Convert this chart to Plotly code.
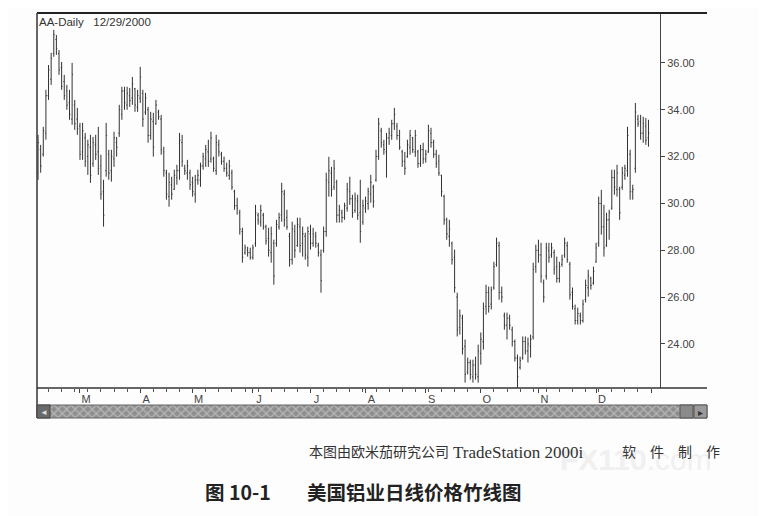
import pandas as pd
import plotly.graph_objects as go

# ---------------- data (AA daily, 2000-02-08 .. 2000-12-29) ----------------
high = [32.93, 32.50, 33.27, 34.85, 35.91, 36.43, 37.41, 37.19, 36.55, 36.04,
        35.49, 35.06, 34.85, 36.00, 34.42, 34.08, 33.44, 33.44, 33.01, 32.72,
        32.93, 32.84, 32.93, 33.27, 32.08, 31.01, 33.44, 32.29, 32.29, 33.06,
        32.84, 34.21, 34.98, 34.98, 34.98, 34.93, 35.40, 34.93, 34.85, 35.83,
        34.85, 34.72, 34.12, 33.91, 33.87, 34.42, 34.00, 33.78, 32.42, 31.44,
        31.31, 31.14, 31.44, 31.65, 33.01, 32.93, 31.65, 31.86, 31.44, 31.14,
        31.22, 31.44, 31.74, 32.16, 32.50, 32.72, 33.06, 32.00, 32.93, 32.72,
        32.20, 32.00, 31.74, 31.86, 31.44, 30.58, 30.24, 29.73, 28.96, 28.24,
        28.15, 28.11, 28.24, 29.94, 29.60, 29.94, 29.60, 29.09, 28.96, 29.01,
        28.45, 29.30, 29.60, 30.88, 30.58, 29.73, 28.75, 29.22, 29.09, 29.39,
        29.39, 29.01, 28.75, 29.01, 29.09, 28.96, 28.79, 28.32, 28.03, 29.01,
        31.31, 31.99, 31.56, 31.86, 31.01, 29.94, 29.73, 30.03, 30.88, 31.14,
        30.37, 30.46, 30.37, 31.01, 30.16, 30.29, 30.67, 31.22, 30.80, 32.29,
        33.65, 33.23, 32.72, 33.01, 33.23, 33.57, 34.08, 33.44, 33.14, 32.29,
        32.20, 32.72, 33.14, 32.84, 33.14, 32.29, 32.50, 32.59, 32.29, 33.36,
        33.23, 32.72, 32.29, 32.08, 31.22, 30.37, 29.39, 29.30, 28.37, 28.03,
        26.19, 25.47, 25.25, 24.19, 23.42, 23.33, 23.33, 23.46, 23.97, 24.49,
        25.77, 26.53, 26.45, 26.45, 27.51, 28.54, 28.37, 26.45, 25.34, 25.34,
        25.25, 24.74, 24.19, 23.55, 23.46, 24.32, 24.32, 24.27, 24.40, 27.47,
        28.24, 28.45, 28.32, 26.75, 28.32, 28.32, 28.32, 28.03, 27.73, 27.51,
        27.81, 28.54, 28.37, 27.51, 26.41, 25.68, 25.55, 25.34, 25.89, 26.75,
        27.17, 26.87, 27.30, 28.32, 30.29, 30.58, 29.94, 29.60, 29.73, 31.44,
        31.44, 31.65, 30.71, 31.56, 31.65, 33.27, 32.29, 30.80, 34.29, 33.78,
        33.78, 33.70, 33.65, 33.57]

low = [31.01, 31.31, 32.00, 32.72, 34.42, 35.06, 36.26, 36.34, 35.49, 34.85,
       34.42, 34.00, 33.57, 33.36, 33.14, 32.93, 31.86, 31.86, 31.56, 31.22,
       30.88, 31.56, 31.86, 31.22, 30.16, 29.01, 31.14, 31.01, 30.93, 31.56,
       32.00, 32.84, 33.57, 34.00, 34.00, 34.12, 34.21, 33.91, 33.91, 34.29,
       33.27, 33.78, 32.59, 32.72, 32.00, 33.36, 33.57, 32.08, 31.14, 30.16,
       29.86, 30.16, 30.58, 30.80, 31.01, 31.56, 31.22, 31.01, 30.58, 30.29,
       30.03, 30.80, 30.71, 31.44, 31.56, 31.56, 31.74, 31.35, 31.22, 32.00,
       31.65, 31.35, 31.14, 31.01, 30.58, 29.73, 29.52, 28.67, 27.47, 27.81,
       27.73, 27.60, 27.60, 28.15, 29.09, 29.01, 28.88, 28.24, 27.73, 27.47,
       26.53, 28.15, 28.88, 29.22, 29.01, 28.88, 27.30, 27.39, 27.68, 28.15,
       27.90, 27.73, 27.60, 27.30, 28.03, 28.15, 28.11, 27.73, 26.19, 27.90,
       28.58, 30.29, 30.29, 30.58, 29.18, 29.18, 29.18, 29.30, 29.65, 29.94,
       29.39, 29.60, 29.30, 28.32, 29.09, 29.60, 29.73, 30.03, 29.82, 30.93,
       31.86, 32.38, 32.08, 31.10, 32.50, 32.72, 33.14, 32.72, 32.29, 31.56,
       31.22, 31.95, 32.08, 32.16, 31.99, 31.52, 31.56, 31.69, 31.74, 32.16,
       32.38, 31.95, 31.52, 31.18, 30.29, 29.09, 28.45, 28.15, 27.39, 26.19,
       24.32, 24.40, 23.55, 22.35, 22.70, 22.48, 22.35, 22.48, 22.35, 23.12,
       23.76, 25.25, 25.34, 25.47, 26.32, 27.30, 25.89, 25.77, 24.61, 24.19,
       24.61, 23.89, 23.25, 22.14, 22.91, 23.33, 23.55, 23.21, 23.42, 24.19,
       27.04, 27.47, 26.62, 25.77, 26.75, 27.47, 27.68, 26.96, 26.62, 26.62,
       27.30, 27.68, 27.47, 25.89, 25.47, 24.83, 24.83, 24.83, 24.91, 25.77,
       26.02, 26.32, 26.53, 27.47, 28.15, 28.67, 27.73, 28.15, 28.45, 29.73,
       30.37, 30.29, 29.30, 30.58, 31.01, 31.14, 30.16, 30.16, 31.31, 33.27,
       32.72, 32.59, 32.50, 32.42]

open_ = [31.3, 32.3, 32.1, 33.0, 34.6, 35.3, 36.4, 37.0, 36.4, 35.8,
         35.2, 34.8, 34.3, 33.6, 34.2, 33.6, 33.3, 32.2, 32.8, 32.0,
         32.4, 31.7, 32.5, 32.2, 31.6, 30.5, 31.4, 32.1, 31.4, 31.9,
         32.6, 33.0, 33.8, 34.8, 34.2, 34.6, 34.5, 34.9, 34.1, 34.5,
         34.7, 33.9, 34.0, 32.9, 33.5, 33.4, 33.9, 33.6, 32.2, 31.3,
         30.3, 30.8, 30.6, 31.1, 31.4, 32.6, 31.5, 31.3, 31.3, 30.9,
         30.4, 31.0, 31.0, 31.6, 31.9, 32.2, 31.9, 31.9, 31.4, 32.5,
         32.1, 31.8, 31.5, 31.2, 31.3, 30.5, 29.9, 29.6, 28.8, 27.9,
         28.0, 27.9, 27.7, 28.3, 29.5, 29.2, 29.5, 29.0, 28.5, 27.9,
         28.3, 28.3, 29.0, 29.5, 30.4, 29.4, 28.6, 27.6, 28.8, 28.2,
         29.0, 28.3, 28.6, 27.7, 28.7, 28.3, 28.6, 28.2, 27.8, 28.0,
         28.8, 30.9, 31.3, 30.7, 30.9, 29.5, 29.6, 29.4, 29.8, 30.5,
         30.2, 29.7, 30.1, 29.6, 29.2, 29.8, 30.0, 30.4, 30.7, 31.0,
         32.0, 33.1, 32.5, 32.2, 32.8, 32.9, 33.4, 33.3, 32.9, 32.2,
         31.8, 32.0, 32.4, 32.8, 32.2, 32.2, 31.7, 32.3, 31.9, 32.2,
         33.0, 32.6, 32.1, 31.8, 31.2, 30.3, 29.3, 28.6, 28.3, 27.7,
         26.0, 24.7, 25.1, 23.9, 22.8, 23.2, 22.6, 23.1, 22.6, 23.6,
         24.1, 25.6, 26.2, 25.7, 26.4, 27.4, 28.2, 26.2, 25.2, 24.8,
         25.1, 24.6, 24.1, 23.4, 23.0, 23.4, 24.1, 23.7, 23.9, 24.3,
         27.3, 28.0, 27.8, 26.6, 26.9, 28.0, 27.8, 27.9, 27.3, 26.8,
         27.4, 27.8, 28.2, 27.4, 26.2, 25.5, 25.0, 25.2, 25.0, 25.9,
         26.4, 26.8, 26.6, 27.5, 28.3, 30.0, 29.0, 28.2, 29.3, 29.8,
         31.1, 30.6, 30.6, 30.7, 31.2, 31.4, 32.1, 30.5, 31.5, 33.6,
         33.5, 33.0, 33.3, 32.8]

close = [32.6, 31.6, 33.1, 34.6, 35.7, 36.2, 37.2, 36.6, 35.7, 35.0,
         34.6, 34.2, 33.8, 35.5, 33.4, 33.2, 32.1, 33.1, 31.8, 32.5,
         31.2, 32.6, 32.1, 31.5, 30.4, 29.5, 32.9, 31.3, 32.0, 32.8,
         32.4, 34.0, 34.8, 34.3, 34.7, 34.4, 35.1, 34.2, 34.6, 35.4,
         33.6, 34.5, 32.9, 33.6, 32.4, 34.2, 33.7, 32.3, 31.4, 30.4,
         30.9, 30.4, 31.2, 31.4, 32.7, 31.8, 31.4, 31.6, 30.8, 30.5,
         31.0, 31.2, 31.6, 32.0, 32.3, 31.8, 32.8, 31.5, 32.6, 32.2,
         31.8, 31.5, 31.3, 31.6, 30.7, 29.9, 29.8, 28.9, 27.7, 28.1,
         27.9, 27.7, 28.1, 29.6, 29.3, 29.7, 29.0, 28.4, 28.0, 28.7,
         26.9, 29.1, 29.4, 30.5, 29.3, 29.0, 27.6, 28.9, 28.0, 29.1,
         28.2, 28.7, 27.8, 28.8, 28.3, 28.7, 28.3, 27.9, 26.7, 28.8,
         31.0, 31.4, 30.6, 31.5, 29.5, 29.7, 29.4, 29.9, 30.6, 30.2,
         29.6, 30.2, 29.5, 28.8, 29.9, 30.1, 30.5, 30.9, 30.1, 32.0,
         33.4, 32.6, 32.3, 32.8, 33.0, 33.4, 33.8, 32.9, 32.4, 31.8,
         31.5, 32.5, 32.9, 32.3, 32.9, 31.7, 32.3, 31.9, 32.1, 33.1,
         32.6, 32.1, 31.7, 31.3, 30.5, 29.3, 28.7, 28.9, 27.6, 26.4,
         24.6, 25.2, 23.8, 22.7, 23.2, 22.7, 23.1, 22.7, 23.7, 24.2,
         25.5, 26.2, 25.6, 26.3, 27.3, 28.3, 26.2, 26.0, 24.8, 25.1,
         24.8, 24.1, 23.4, 22.6, 23.3, 24.1, 23.7, 24.0, 24.2, 27.2,
         28.0, 27.8, 26.9, 26.0, 28.1, 27.7, 28.1, 27.2, 26.8, 27.3,
         27.6, 28.3, 27.6, 26.1, 25.6, 25.0, 25.3, 25.0, 25.7, 26.5,
         26.9, 26.5, 27.1, 28.1, 30.0, 29.0, 28.1, 29.3, 29.6, 31.1,
         30.7, 31.3, 29.6, 31.3, 31.5, 32.9, 30.5, 30.6, 33.9, 33.4,
         33.0, 33.4, 32.7, 33.0]

month_labels = ["M", "A", "M", "J", "J", "A", "S", "O", "N", "D", ""]
price_ticks = [24, 26, 28, 30, 32, 34, 36]
chart_title = "AA-Daily\u00a0\u00a0\u00a012/29/2000"
caption_1a = "本图由欧米茄研究公司"
caption_1b = "TradeStation 2000i"
caption_1c = "软\u2003件\u2003制\u2003作"
caption_2a = "图 10-1"
caption_2b = "美国铝业日线价格竹线图"

# ---------------- positions ----------------
dates = pd.bdate_range("2000-02-08", "2000-12-29")
n = len(dates)
idx = list(range(n))
month_starts = [i for i in range(1, n) if dates[i].month != dates[i - 1].month] + [n]

OFF = 8                      # page body margin of the browser
W, H = 767 - OFF, 516 - OFF
L, R, T, B = 37, 707, 13, 418          # plot-area box in reference pixels
PW, PH = R - L, B - T


def px_x(px):
    return (px - L) / PW


def px_y(py):
    return (B - py) / PH


MAIN_RIGHT = px_x(660)
MAIN_BOTTOM = px_y(388)
SCROLL_TOP = px_y(405)

fig = go.Figure()

# scrollbar texture (pattern-filled bar on a hidden axis)
fig.add_trace(go.Bar(
    x=[0.5], y=[1], width=[1], xaxis="x2", yaxis="y2",
    marker=dict(color="#9a9a9a", line_width=0,
                pattern=dict(shape="x", fgcolor="#dedede", bgcolor="#8e8e8e",
                             size=6, solidity=0.4)),
    hoverinfo="skip", showlegend=False))

fig.add_trace(go.Ohlc(
    x=idx, open=open_, high=high, low=low, close=close,
    increasing=dict(line=dict(color="#333333", width=1)),
    decreasing=dict(line=dict(color="#333333", width=1)),
    tickwidth=0.35, hoverinfo="skip", showlegend=False))

tick_font = dict(family="Liberation Sans, Arial, sans-serif", size=11, color="#444")

fig.update_layout(
    width=W, height=H,
    margin=dict(l=L - OFF, r=W - (R - OFF), t=T - OFF, b=H - (B - OFF), pad=0),
    paper_bgcolor="#fdfdfd", plot_bgcolor="#fdfdfd",
    showlegend=False,
    xaxis=dict(domain=[0, MAIN_RIGHT], range=[-0.4, 237.4], anchor="y",
               tickmode="array", tickvals=month_starts, ticktext=month_labels,
               ticks="outside", ticklen=4, tickcolor="#444", tickwidth=1,
               ticklabelshift=6, ticklabelstandoff=-3,
               minor=dict(tick0=4, dtick=5, ticks="outside", ticklen=3,
                          tickcolor="#555", showgrid=False),
               tickfont=tick_font, showgrid=False, zeroline=False,
               showline=False, rangeslider=dict(visible=False), fixedrange=True),
    yaxis=dict(domain=[MAIN_BOTTOM, 1], range=[22.12, 38.13], side="right",
               anchor="x", tickmode="array", tickvals=price_ticks,
               tickformat=".2f", ticks="outside", ticklen=4, tickcolor="#444",
               tickfont=tick_font, showgrid=False, zeroline=False,
               showline=True, linecolor="#444", linewidth=1, fixedrange=True),
    xaxis2=dict(domain=[0, 1], range=[0, 1], anchor="y2", visible=False,
                fixedrange=True),
    yaxis2=dict(domain=[0, SCROLL_TOP], range=[0, 1], anchor="x2", visible=False,
                fixedrange=True),
    bargap=0,
)

shapes = [
    dict(type="line", xref="paper", yref="paper", x0=0, x1=1, y0=1, y1=1,
         line=dict(color="#222", width=2)),
    dict(type="line", xref="paper", yref="paper", x0=0, x1=1,
         y0=MAIN_BOTTOM, y1=MAIN_BOTTOM, line=dict(color="#333", width=1.5)),
    dict(type="line", xref="paper", yref="paper", x0=0, x1=0, y0=0, y1=1,
         line=dict(color="#333", width=1.5)),
    dict(type="rect", xref="paper", yref="paper", x0=0, x1=1, y0=0, y1=SCROLL_TOP,
         line=dict(color="#666", width=1), fillcolor="rgba(0,0,0,0)"),
    dict(type="rect", xref="paper", yref="paper", x0=0, x1=px_x(50), y0=0,
         y1=SCROLL_TOP, line=dict(color="#444", width=1), fillcolor="#6a6a6a"),
    dict(type="rect", xref="paper", yref="paper", x0=px_x(680), x1=px_x(693),
         y0=0, y1=SCROLL_TOP, line=dict(color="#555", width=1), fillcolor="#8a8a8a"),
    dict(type="rect", xref="paper", yref="paper", x0=px_x(694), x1=1,
         y0=0, y1=SCROLL_TOP, line=dict(color="#555", width=1), fillcolor="#9a9a9a"),
]
fig.update_layout(shapes=shapes)

serif_cjk = "Liberation Serif, Noto Sans CJK SC, serif"
annotations = [
    dict(text="<b>FX110</b>.com", xref="paper", yref="paper",
         x=px_x(636), y=px_y(460), xanchor="center", yanchor="middle",
         showarrow=False, font=dict(family="Liberation Sans, Arial", size=30,
                                    color="#f0f0f0")),
    dict(text=chart_title, xref="paper", yref="paper", x=px_x(37), y=px_y(14),
         xanchor="left", yanchor="top", showarrow=False,
         font=dict(family="Liberation Sans, Arial, sans-serif", size=11.5,
                   color="#333")),
    dict(text="\u25C4", xref="paper", yref="paper", x=px_x(43.5), y=px_y(411.5),
         xanchor="center", yanchor="middle", showarrow=False,
         font=dict(size=8, color="#ddd")),
    dict(text="\u25B8", xref="paper", yref="paper", x=px_x(700.5), y=px_y(411.5),
         xanchor="center", yanchor="middle", showarrow=False,
         font=dict(size=10, color="#333")),
    dict(text=caption_1a, xref="paper", yref="paper", x=px_x(307), y=px_y(452),
         xanchor="left", yanchor="middle", showarrow=False,
         font=dict(family=serif_cjk, size=14, color="#333")),
    dict(text=caption_1b, xref="paper", yref="paper", x=px_x(451), y=px_y(452),
         xanchor="left", yanchor="middle", showarrow=False,
         font=dict(family=serif_cjk, size=17, color="#333")),
    dict(text=caption_1c, xref="paper", yref="paper", x=px_x(722), y=px_y(452),
         xanchor="right", yanchor="middle", showarrow=False,
         font=dict(family=serif_cjk, size=14, color="#333")),
    dict(text=caption_2a, xref="paper", yref="paper", x=px_x(203), y=px_y(491),
         xanchor="left", yanchor="middle", showarrow=False,
         font=dict(family="Noto Sans CJK SC, sans-serif", size=19.5,
                   color="#222", weight=700)),
    dict(text=caption_2b, xref="paper", yref="paper", x=px_x(305), y=px_y(491),
         xanchor="left", yanchor="middle", showarrow=False,
         font=dict(family="Noto Sans CJK SC, sans-serif", size=19.5,
                   color="#222", weight=700)),
]
fig.update_layout(annotations=annotations)

fig.write_html("out.html")
